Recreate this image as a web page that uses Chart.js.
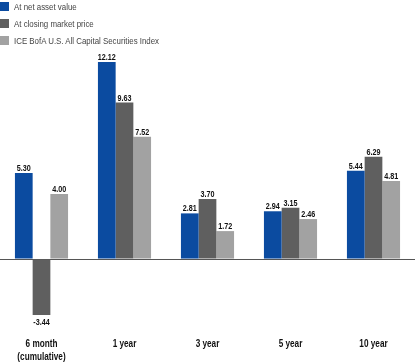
<!DOCTYPE html>
<html>
<head>
<meta charset="utf-8">
<script src="https://cdn.jsdelivr.net/npm/chart.js@4.4.1/dist/chart.umd.min.js"></script>
<style>
  html, body { margin: 0; padding: 0; background: #fff; }
  #wrap { position: relative; width: 415px; height: 363px; }
  #legend { position: absolute; left: 0; top: 0; font-family: 'Liberation Sans', Arial, sans-serif; font-size: 9.5px; color: #444; }
  .item { position: relative; height: 17px; }
  .box { position: absolute; left: 0; top: 2px; width: 9px; height: 9px; }
  .txt { position: absolute; left: 14px; top: 0; line-height: 13px; white-space: nowrap; transform: scaleX(0.83); transform-origin: left center; }
</style>
</head>
<body>
<div id="wrap">
  <canvas id="chart" width="415" height="363"></canvas>
  <div id="legend"></div>
</div>
<script>
const categories = [['6 month', '(cumulative)'], '1 year', '3 year', '5 year', '10 year'];
const seriesNames = ['At net asset value', 'At closing market price', 'ICE BofA U.S. All Capital Securities Index'];
const navValues = [5.30, 12.12, 2.81, 2.94, 5.44];
const marketValues = [-3.44, 9.63, 3.70, 3.15, 6.29];
const indexValues = [4.00, 7.52, 1.72, 2.46, 4.81];
const colors = ['#0b4ba0', '#5f5f5f', '#a2a2a2'];

const labelFont = "'Liberation Sans', Arial, sans-serif";

// legend in html, stacked vertically like the original
const legend = document.getElementById('legend');
seriesNames.forEach((name, i) => {
    const item = document.createElement('div');
    item.className = 'item';
    item.innerHTML = '<span class="box" style="background:' + colors[i] + '"></span><span class="txt">' + name + '</span>';
    legend.appendChild(item);
});

// condensed text: squeeze horizontally around the anchor point
function narrowText(ctx, text, x, y, sx) {
    ctx.save();
    ctx.translate(x, y);
    ctx.scale(sx, 1);
    ctx.fillText(text, 0, 0);
    ctx.restore();
}

// value labels above (or below) each bar, plus the category labels
const customText = {
    id: 'customText',
    afterDatasetsDraw(chart) {
        const ctx = chart.ctx;
        ctx.save();
        ctx.font = 'bold 9px ' + labelFont;
        ctx.fillStyle = '#111';
        ctx.textAlign = 'center';
        chart.data.datasets.forEach((ds, di) => {
            chart.getDatasetMeta(di).data.forEach((bar, i) => {
                const v = ds.data[i];
                const txt = v.toFixed(2);
                if (v >= 0) {
                    ctx.textBaseline = 'alphabetic';
                    narrowText(ctx, txt, bar.x, bar.y - 2, 0.8);
                } else {
                    ctx.textBaseline = 'top';
                    narrowText(ctx, txt, bar.x, bar.y + 3, 0.8);
                }
            });
        });

        const xs = chart.scales.x;
        ctx.font = 'bold 10px ' + labelFont;
        ctx.textBaseline = 'middle';
        chart.data.labels.forEach((lab, i) => {
            const lines = Array.isArray(lab) ? lab : [lab];
            const x = xs.getPixelForValue(i);
            lines.forEach((line, j) => {
                narrowText(ctx, line, x, 344 + j * 13, 0.82);
            });
        });
        ctx.restore();
    }
};

new Chart(document.getElementById('chart'), {
    type: 'bar',
    data: {
        labels: categories,
        datasets: [
            { label: seriesNames[0], data: navValues, backgroundColor: colors[0] },
            { label: seriesNames[1], data: marketValues, backgroundColor: colors[1] },
            { label: seriesNames[2], data: indexValues, backgroundColor: colors[2] }
        ]
    },
    options: {
        responsive: false,
        animation: false,
        layout: { padding: { top: 0, left: 0, right: 0, bottom: 30 } },
        datasets: {
            bar: { categoryPercentage: 0.64, barPercentage: 1, borderWidth: 0 }
        },
        plugins: {
            legend: { display: false },
            tooltip: { enabled: false }
        },
        scales: {
            x: {
                grid: { display: false, drawTicks: false },
                border: { display: false },
                ticks: { display: false }
            },
            y: {
                min: -4.55,
                max: 15.94,
                afterBuildTicks: s => { s.ticks = [{ value: 0 }]; },
                ticks: { display: false },
                border: { display: false },
                grid: { drawTicks: false, color: '#555', lineWidth: 1 }
            }
        }
    },
    plugins: [customText]
});
</script>
</body>
</html>
